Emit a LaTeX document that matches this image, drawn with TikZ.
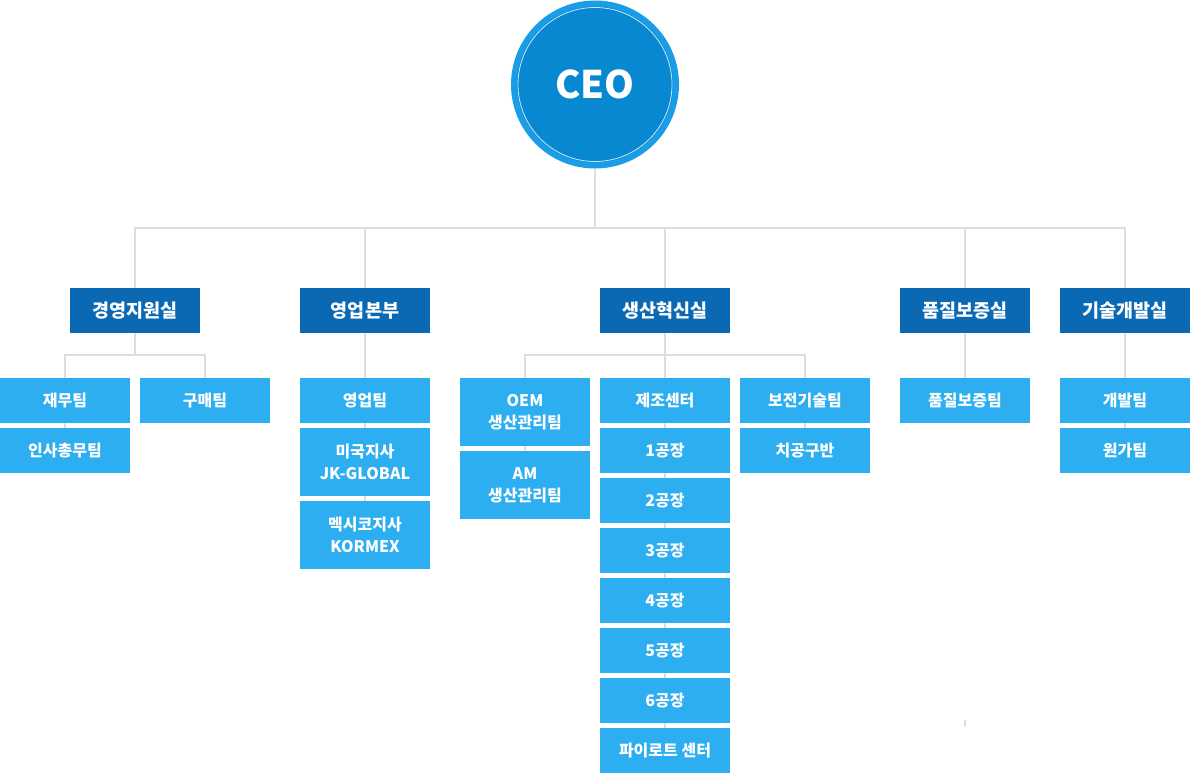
\documentclass[tikz,border=0pt]{standalone}
\usepackage{fontspec}
\setmainfont{Noto Sans CJK KR}
\usetikzlibrary{backgrounds}
\definecolor{deptblue}{HTML}{0B69B3}
\definecolor{subblue}{HTML}{2DAEF0}
\definecolor{ringblue}{HTML}{189DE6}
\definecolor{ceoblue}{HTML}{0788D0}
\definecolor{linegray}{HTML}{DDDDDD}
\tikzset{
  dept/.style={fill=deptblue, text=white, minimum width=130pt, minimum height=45pt, inner sep=0pt, font=\bfseries\fontsize{18.5}{22}\selectfont},
  sub/.style={fill=subblue, text=white, minimum width=130pt, minimum height=45pt, inner sep=0pt, align=center, font=\bfseries\fontsize{16}{22}\selectfont},
  tall/.style={sub, minimum height=68pt},
  conn/.style={draw=linegray, line width=2pt},
  ceoring/.style={circle, fill=ringblue, minimum size=168pt, inner sep=0pt},
}
\begin{document}
\begin{tikzpicture}[x=1pt,y=-1pt]
\useasboundingbox (0,0) rectangle (1190,773);
% CEO
\node[ceoring] (ceo) at (595,84.5) {};
\fill[ceoblue] (ceo.center) circle (78);
\draw[white, opacity=0.8, line width=0.8pt] (ceo.center) circle (77);
\node[text=white, font=\bfseries\fontsize{38}{44}\selectfont] (ceotxt) at (ceo.center) {CEO};
% departments
\node[dept] (d1) at (135,310.5) {경영지원실};
\node[dept] (d2) at (365,310.5) {영업본부};
\node[dept] (d3) at (665,310.5) {생산혁신실};
\node[dept] (d4) at (965,310.5) {품질보증실};
\node[dept] (d5) at (1125,310.5) {기술개발실};
% d1 teams
\node[sub] (a1) at (65,400.5) {재무팀};
\node[sub] (a2) at (205,400.5) {구매팀};
\node[sub] (a3) at (65,450.5) {인사총무팀};
% d2 teams
\node[sub] (b1) at (365,400.5) {영업팀};
\node[tall] (b2) at (365,462) {미국지사\\JK-GLOBAL};
\node[tall] (b3) at (365,535) {멕시코지사\\KORMEX};
% d3 teams
\node[tall] (c1) at (525,412) {OEM\\생산관리팀};
\node[tall] (c2) at (525,485) {AM\\생산관리팀};
\node[sub] (m0) at (665,400.5) {제조센터};
\node[sub] (m1) at (665,450.5) {1공장};
\node[sub] (m2) at (665,500.5) {2공장};
\node[sub] (m3) at (665,550.5) {3공장};
\node[sub] (m4) at (665,600.5) {4공장};
\node[sub] (m5) at (665,650.5) {5공장};
\node[sub] (m6) at (665,700.5) {6공장};
\node[sub] (m7) at (665,750.5) {파이로트 센터};
\node[sub] (e1) at (805,400.5) {보전기술팀};
\node[sub] (e2) at (805,450.5) {치공구반};
% d4, d5 teams
\node[sub] (q1) at (965,400.5) {품질보증팀};
\node[sub] (t1) at (1125,400.5) {개발팀};
\node[sub] (t2) at (1125,450.5) {원가팀};
% connectors
\coordinate (bus) at (595,228);
\coordinate (bus1) at (135,355);
\coordinate (bus3) at (665,355);
\coordinate (mk1) at (965,720);
\coordinate (mk2) at (965,727);
\begin{scope}[on background layer]
\draw[conn] (ceo.south) -- (bus);
\foreach \d in {d1,d2,d3,d4,d5} { \draw[conn] (bus) -| (\d.north); }
\draw[conn] (d1.south) -- (bus1);
\draw[conn] (bus1) -| (a1.north);
\draw[conn] (bus1) -| (a2.north);
\draw[conn] (a1.south) -- (a3.north);
\draw[conn] (d2.south) -- (b1.north);
\draw[conn] (b1.south) -- (b2.north);
\draw[conn] (b2.south) -- (b3.north);
\draw[conn] (d3.south) -- (bus3);
\draw[conn] (bus3) -| (c1.north);
\draw[conn] (bus3) -- (m0.north);
\draw[conn] (bus3) -| (e1.north);
\draw[conn] (c1.south) -- (c2.north);
\draw[conn] (m0.south) -- (m7.north);
\draw[conn] (e1.south) -- (e2.north);
\draw[conn] (d4.south) -- (q1.north);
\draw[conn] (d5.south) -- (t1.north);
\draw[conn] (t1.south) -- (t2.north);
\draw[conn] (mk1) -- (mk2);
\end{scope}
\end{tikzpicture}
\end{document}
